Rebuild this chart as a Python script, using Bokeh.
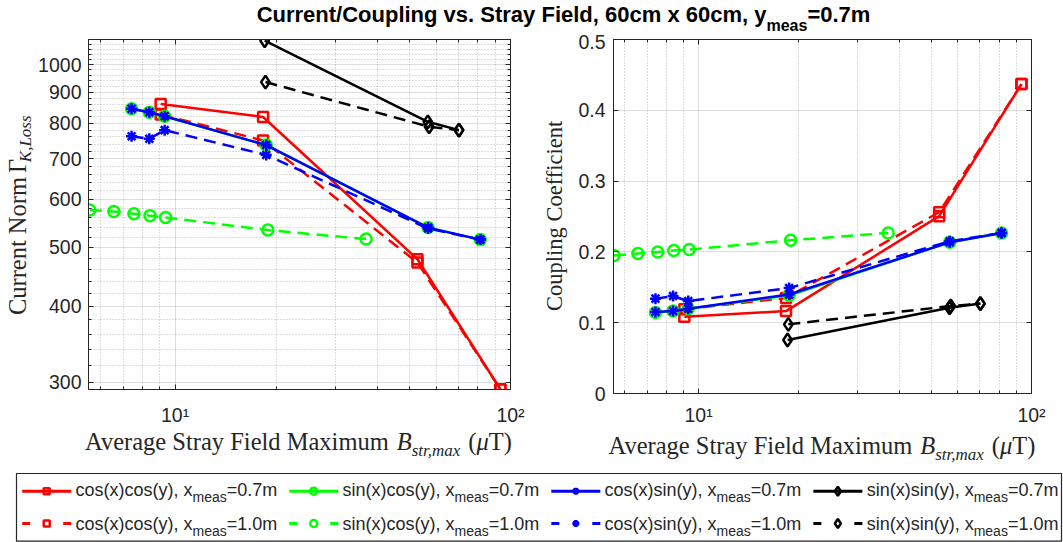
import math
from bokeh.plotting import figure
from bokeh.layouts import column, row
from bokeh.models import Range1d, FixedTicker, CustomJSTickFormatter, LogAxis, LinearAxis, Label
from bokeh.embed import file_html
from bokeh.resources import INLINE

# ---------------- data ----------------
# cos(x)cos(y)
field_cc07 = [9.06, 18.3, 52.8, 93.3]
current_cc07 = [861, 820, 478, 292]
coupling_cc07 = [0.1085, 0.1164, 0.2505, 0.437]
field_cc10 = [9.06, 18.3, 52.8, 93.3]
current_cc10 = [828, 750, 472, 292]
coupling_cc10 = [0.119, 0.135, 0.256, 0.437]
# sin(x)cos(y)
field_sc07 = [7.42, 8.38, 9.31, 18.7, 56.8, 81.3]
current_sc07 = [846, 835, 822, 737, 539, 515]
coupling_sc07 = [0.1145, 0.1164, 0.1197, 0.1385, 0.2136, 0.2268]
field_sc10 = [5.57, 6.57, 7.54, 8.42, 9.37, 18.9, 37.1]
current_sc10 = [576, 573, 568, 564, 560, 534, 516]
coupling_sc10 = [0.1948, 0.1977, 0.2000, 0.2019, 0.2033, 0.2164, 0.2268]
# cos(x)sin(y)
field_cs07 = [7.42, 8.38, 9.31, 18.7, 56.8, 81.3]
current_cs07 = [846, 835, 822, 737, 539, 515]
coupling_cs07 = [0.115, 0.1164, 0.1197, 0.1399, 0.2136, 0.2268]
field_cs10 = [7.42, 8.38, 9.31, 18.7, 56.8, 81.3]
current_cs10 = [762, 755, 780, 710, 537, 515]
coupling_cs10 = [0.134, 0.1376, 0.1305, 0.149, 0.2150, 0.2268]
# sin(x)sin(y)
field_ss07 = [18.5, 56.7, 70.2]
current_ss07 = [1095, 805, 780]
coupling_ss07 = [0.0756, 0.121, 0.127]
field_ss10 = [18.6, 57.2, 70.2]
current_ss10 = [936, 790, 780]
coupling_ss10 = [0.0977, 0.1235, 0.127]

func_names = ["cos(x)cos(y)", "sin(x)cos(y)", "cos(x)sin(y)", "sin(x)sin(y)"]
meas_labels = ["=0.7m", "=1.0m"]
x_ticks = [10, 100]
x_minor = [6, 7, 8, 9, 20, 30, 40, 50, 60, 70, 80, 90]
cur_ticks = [300, 400, 500, 600, 700, 800, 900, 1000]
cur_minor = [280, 320, 340, 360, 380, 420, 440, 460, 480, 520, 540, 560, 580,
             620, 640, 660, 680, 720, 740, 760, 780, 820, 840, 860, 880,
             920, 940, 960, 980, 1020, 1040, 1060, 1080, 1100]
cpl_ticks = [0, 0.1, 0.2, 0.3, 0.4, 0.5]

DASH = "12 7"
series = [
    (field_cc07, current_cc07, coupling_cc07, "#ff0000", "square", "solid"),
    (field_cc10, current_cc10, coupling_cc10, "#ff0000", "square", DASH),
    (field_sc07, current_sc07, coupling_sc07, "#00ff00", "circle", "solid"),
    (field_sc10, current_sc10, coupling_sc10, "#00ff00", "circle", DASH),
    (field_cs07, current_cs07, coupling_cs07, "#0000ff", "asterisk", "solid"),
    (field_cs10, current_cs10, coupling_cs10, "#0000ff", "asterisk", DASH),
    (field_ss07, current_ss07, coupling_ss07, "#000000", "diamond", "solid"),
    (field_ss10, current_ss10, coupling_ss10, "#000000", "diamond", DASH),
]
marker_size = {"square": 10, "circle": 11, "asterisk": 11, "diamond": 13}

# ---------------- text metrics helpers ----------------
SANS = "Liberation Sans"
SERIF = "Liberation Serif"
INK = "#262626"
ARIAL = {' ': 278, '(': 333, ')': 333, ',': 278, '.': 278, '=': 584, '0': 556, '1': 556, '7': 556,
         'a': 556, 'c': 500, 'e': 556, 'i': 222, 'm': 833, 'n': 556, 'o': 556, 's': 500, 'x': 500, 'y': 500}
ARIAL_B = {' ': 278, '/': 278, ',': 278, '.': 278, '=': 584, '0': 556, '6': 556, '7': 556, 'C': 722,
           'F': 611, 'S': 667, 'a': 556, 'c': 556, 'd': 611, 'e': 556, 'g': 611, 'i': 278, 'l': 278,
           'm': 889, 'n': 611, 'o': 611, 'p': 611, 'r': 389, 's': 556, 't': 333, 'u': 611, 'v': 556,
           'x': 556, 'y': 556}
TIMES = {' ': 250, '(': 333, ')': 333, 'A': 722, 'C': 667, 'F': 556, 'M': 889, 'N': 722, 'S': 556,
         'T': 611, 'a': 444, 'd': 500, 'e': 444, 'f': 333, 'g': 500, 'i': 278, 'l': 278, 'm': 778,
         'n': 500, 'o': 500, 'p': 500, 'c': 444, 'r': 333, 't': 278, 'u': 500, 'v': 500, 'x': 500,
         'y': 500, '\u0393': 578}
TIMES_I = {' ': 250, ',': 250, 'B': 611, 'K': 667, 'L': 556, 'a': 500, 'm': 722, 'o': 500, 'r': 389,
           's': 389, 't': 278, 'x': 444, '\u03bc': 500}

BASE_CORR = 0.35     # alphabetic-baseline correction for SVG text, in em
MID_CORR = 0.34      # baseline -> middle of text box, in em
ROT_CORR = 15.0      # along-text correction for rotated labels, px


def wid(s, tbl, size):
    return sum(tbl.get(c, 500) for c in s) * size / 1000.0


def place_pieces(p, parts, x0, y0, font, color, rotate=False, center=True, y_down=False):
    """parts: (text, width table, size px, style, subscript shift px, extra gap px)."""
    total = sum(wid(t, tb, s) + g for t, tb, s, st, sh, g in parts)
    pos = x0 - total / 2.0 if center else x0
    for t, tb, s, st, sh, g in parts:
        lead = len(t) - len(t.lstrip(' '))
        core = t.strip(' ')
        start = pos + wid(' ' * lead, tb, s)
        wc = wid(core, tb, s)
        if rotate:
            lab = Label(x=y0 + sh - MID_CORR * s, y=start + wc / 2.0 - ROT_CORR, text=core,
                        angle=math.pi / 2, text_align="center", text_baseline="middle")
        else:
            yy = (y0 + sh - BASE_CORR * s) if y_down else (y0 - sh + BASE_CORR * s)
            lab = Label(x=start, y=yy, text=core, text_align="left", text_baseline="alphabetic")
        lab.text_font = font
        lab.text_font_size = "%.1fpx" % s
        lab.text_font_style = st
        lab.text_color = color
        p.add_layout(lab)
        pos += wid(t, tb, s) + g


def strip(w, h, y_down):
    f = figure(width=w, height=h, x_range=Range1d(0, w),
               y_range=Range1d(h, 0) if y_down else Range1d(0, h),
               min_border=0, x_axis_location=None, y_axis_location=None,
               output_backend="svg", toolbar_location=None)
    f.grid.visible = False
    f.outline_line_color = None
    f.background_fill_color = "white"
    f.border_fill_color = "white"
    return f


def style_axes(p, yticker, yfmt_code, ylog):
    xt = FixedTicker(ticks=x_ticks, minor_ticks=x_minor)
    p.xaxis.ticker = xt
    p.xgrid.ticker = xt
    p.yaxis.ticker = yticker
    p.ygrid.ticker = yticker
    p.xaxis.formatter = CustomJSTickFormatter(code="return tick < 50 ? '10\u00b9' : '10\u00b2';")
    p.yaxis.formatter = CustomJSTickFormatter(code=yfmt_code)
    for ax in [p.xaxis[0], p.yaxis[0]]:
        ax.axis_line_color = INK
        ax.major_tick_line_color = INK
        ax.minor_tick_line_color = INK
        ax.major_tick_in = 5
        ax.major_tick_out = 0
        ax.minor_tick_in = 3
        ax.minor_tick_out = 0
        ax.major_label_text_font = SANS
        ax.major_label_text_font_size = "19.5px"
        ax.major_label_text_color = INK
    p.yaxis.major_label_standoff = 7
    top = LogAxis(ticker=xt)
    right = LogAxis(ticker=yticker) if ylog else LinearAxis(ticker=yticker)
    for ax in (top, right):
        ax.formatter = CustomJSTickFormatter(code="return '';")
        ax.major_label_text_font_size = "0px"
        ax.major_label_standoff = 0
        ax.axis_line_color = INK
        ax.major_tick_line_color = INK
        ax.minor_tick_line_color = INK
        ax.major_tick_in = 5
        ax.major_tick_out = 0
        ax.minor_tick_in = 3
        ax.minor_tick_out = 0
    p.add_layout(top, "above")
    p.add_layout(right, "right")
    p.outline_line_color = INK
    p.outline_line_alpha = 1.0
    for g in (p.xgrid[0], p.ygrid[0]):
        g.grid_line_color = INK
        g.grid_line_alpha = 0.15
    p.xgrid.minor_grid_line_color = INK
    p.xgrid.minor_grid_line_alpha = 0.3
    p.xgrid.minor_grid_line_dash = "1 2"
    if ylog:
        p.ygrid.minor_grid_line_color = INK
        p.ygrid.minor_grid_line_alpha = 0.3
        p.ygrid.minor_grid_line_dash = "1 2"
    p.background_fill_color = "white"
    p.border_fill_color = "white"


# layout constants (pixels)
TITLE_H = 34         # 0 .. 34
ROW_H = 394          # 34 .. 428
ROW_END = TITLE_H + ROW_H
XLAB_H = 465 - ROW_END
LEG_H = 77           # 465 .. 542
YL1_W = 35
YL2_W = 32

# ---------------- left: current norm ----------------
p1 = figure(width=505, height=ROW_H, frame_width=422, frame_height=350,
            min_border_left=52, min_border_right=31, min_border_top=39 - TITLE_H,
            min_border_bottom=ROW_H - (39 - TITLE_H) - 350,
            x_axis_type="log", y_axis_type="log",
            x_range=Range1d(5.52, 100), y_range=Range1d(291.7, 1100),
            output_backend="svg", toolbar_location=None)
style_axes(p1, FixedTicker(ticks=cur_ticks, minor_ticks=cur_minor), "return tick.toFixed(0);", True)
p1.xaxis.major_label_standoff = 14

# ---------------- right: coupling coefficient ----------------
p2 = figure(width=491, height=ROW_H, frame_width=418, frame_height=354,
            min_border_left=40, min_border_right=33, min_border_top=39 - TITLE_H,
            min_border_bottom=ROW_H - (39 - TITLE_H) - 354,
            x_axis_type="log",
            x_range=Range1d(5.55, 100), y_range=Range1d(0, 0.5),
            output_backend="svg", toolbar_location=None)
style_axes(p2, FixedTicker(ticks=cpl_ticks, minor_ticks=[]),
           "return tick == 0 ? '0' : tick.toFixed(1);", False)
p2.yaxis.major_label_standoff = 8
p2.xaxis.major_label_standoff = 10

for xs, cur, cpl, col, mk, dash in series:
    for p, ys in ((p1, cur), (p2, cpl)):
        p.line(xs, ys, line_color=col, line_width=2.5, line_dash=dash)
        p.scatter(xs, ys, marker=mk, size=marker_size[mk], line_color=col, fill_color=None,
                  line_width=2.5)

# ---------------- axis label strips ----------------
XL = 24.5
XS = 17.0
xlabel_parts = [("Average Stray Field Maximum ", TIMES, XL, "normal", 0, 0),
                ("B", TIMES_I, XL, "italic", 0, 0),
                ("str,max", TIMES_I, XS, "italic", 5.5, 0),
                (" (", TIMES, XL, "normal", 0, 0),
                ("\u03bc", TIMES_I, XL, "italic", 0, 0),
                ("T)", TIMES, XL, "normal", 0, 0)]
xl = strip(1063, XLAB_H, True)       # local y = abs y - ROW_END
place_pieces(xl, xlabel_parts, 298.0, 450 - ROW_END, SERIF, INK, y_down=True)
place_pieces(xl, xlabel_parts, 821.5, 454 - ROW_END, SERIF, INK, y_down=True)

yl1 = strip(YL1_W, ROW_H, False)     # local y = ROW_END - abs y
ylabel1_parts = [("Current Norm ", TIMES, XL, "normal", 0, 8),
                 ("\u0393", TIMES, XL, "normal", 0, 0),
                 ("K,Loss", TIMES_I, XS, "italic", 5.5, 0)]
place_pieces(yl1, ylabel1_parts, ROW_END - 214.0, 25.0, SERIF, INK, rotate=True)

yl2 = strip(YL2_W, ROW_H, False)     # local x = abs x - 540
place_pieces(yl2, [("Coupling Coefficient", TIMES, 22.5, "normal", 0, 0)],
             ROW_END - 217.5, 561 - 540, SERIF, INK, rotate=True)

# ---------------- title strip ----------------
tf = strip(1063, TITLE_H, True)
title_parts = [("Current/Coupling vs. Stray Field, 60cm x 60cm, y", ARIAL_B, 22, "bold", 0, 0),
               ("meas", ARIAL_B, 16, "bold", 9.0, 0),
               ("=0.7m", ARIAL_B, 22, "bold", 0, 0)]
place_pieces(tf, title_parts, 563.0, 21.2, SANS, "#000000", y_down=True)

# ---------------- legend strip ----------------
lf = strip(1063, LEG_H, True)        # local y = abs y - 465
LF, LS = 18, 14
row_line_y = [25.7, 58.0]
row_base_y = [31.0, 64.5]
col_w = [max(wid(name + ", x", ARIAL, LF) + wid("meas", ARIAL, LS) + wid(m, ARIAL, LF)
             for m in meas_labels) for name in func_names]
xs0 = 21.7
starts = []
for k in range(4):
    starts.append(xs0)
    xs0 += 53.3 + col_w[k] + 12.0
box_right = min(starts[-1] + 53.3 + col_w[-1] + 4, 1061)
lf.quad(left=[16], right=[box_right], top=[8], bottom=[75.7], fill_color="white",
        line_color=INK, line_width=1.2)
leg_marker_size = {"square": 6, "circle": 7, "asterisk": 7, "diamond": 9}
for i, (xs, cur, cpl, col, mk, dash) in enumerate(series):
    k, r = i // 2, i % 2
    x0 = starts[k]
    ly = row_line_y[r]
    lf.line([x0, x0 + 49], [ly, ly], line_color=col, line_width=3,
            line_dash="solid" if r == 0 else "8 33")
    lf.scatter([x0 + 24.5], [ly], marker=mk, size=leg_marker_size[mk], line_color=col,
               fill_color=None, line_width=2.5)
    parts = [(func_names[k] + ", x", ARIAL, LF, "normal", 0, 0),
             ("meas", ARIAL, LS, "normal", 5.8, 0),
             (meas_labels[r], ARIAL, LF, "normal", 0, 0)]
    place_pieces(lf, parts, x0 + 53.3, row_base_y[r], SANS, INK, center=False, y_down=True)

layout = column(tf, row(yl1, p1, yl2, p2), xl, lf)
open("out.html", "w").write(file_html(layout, INLINE))
